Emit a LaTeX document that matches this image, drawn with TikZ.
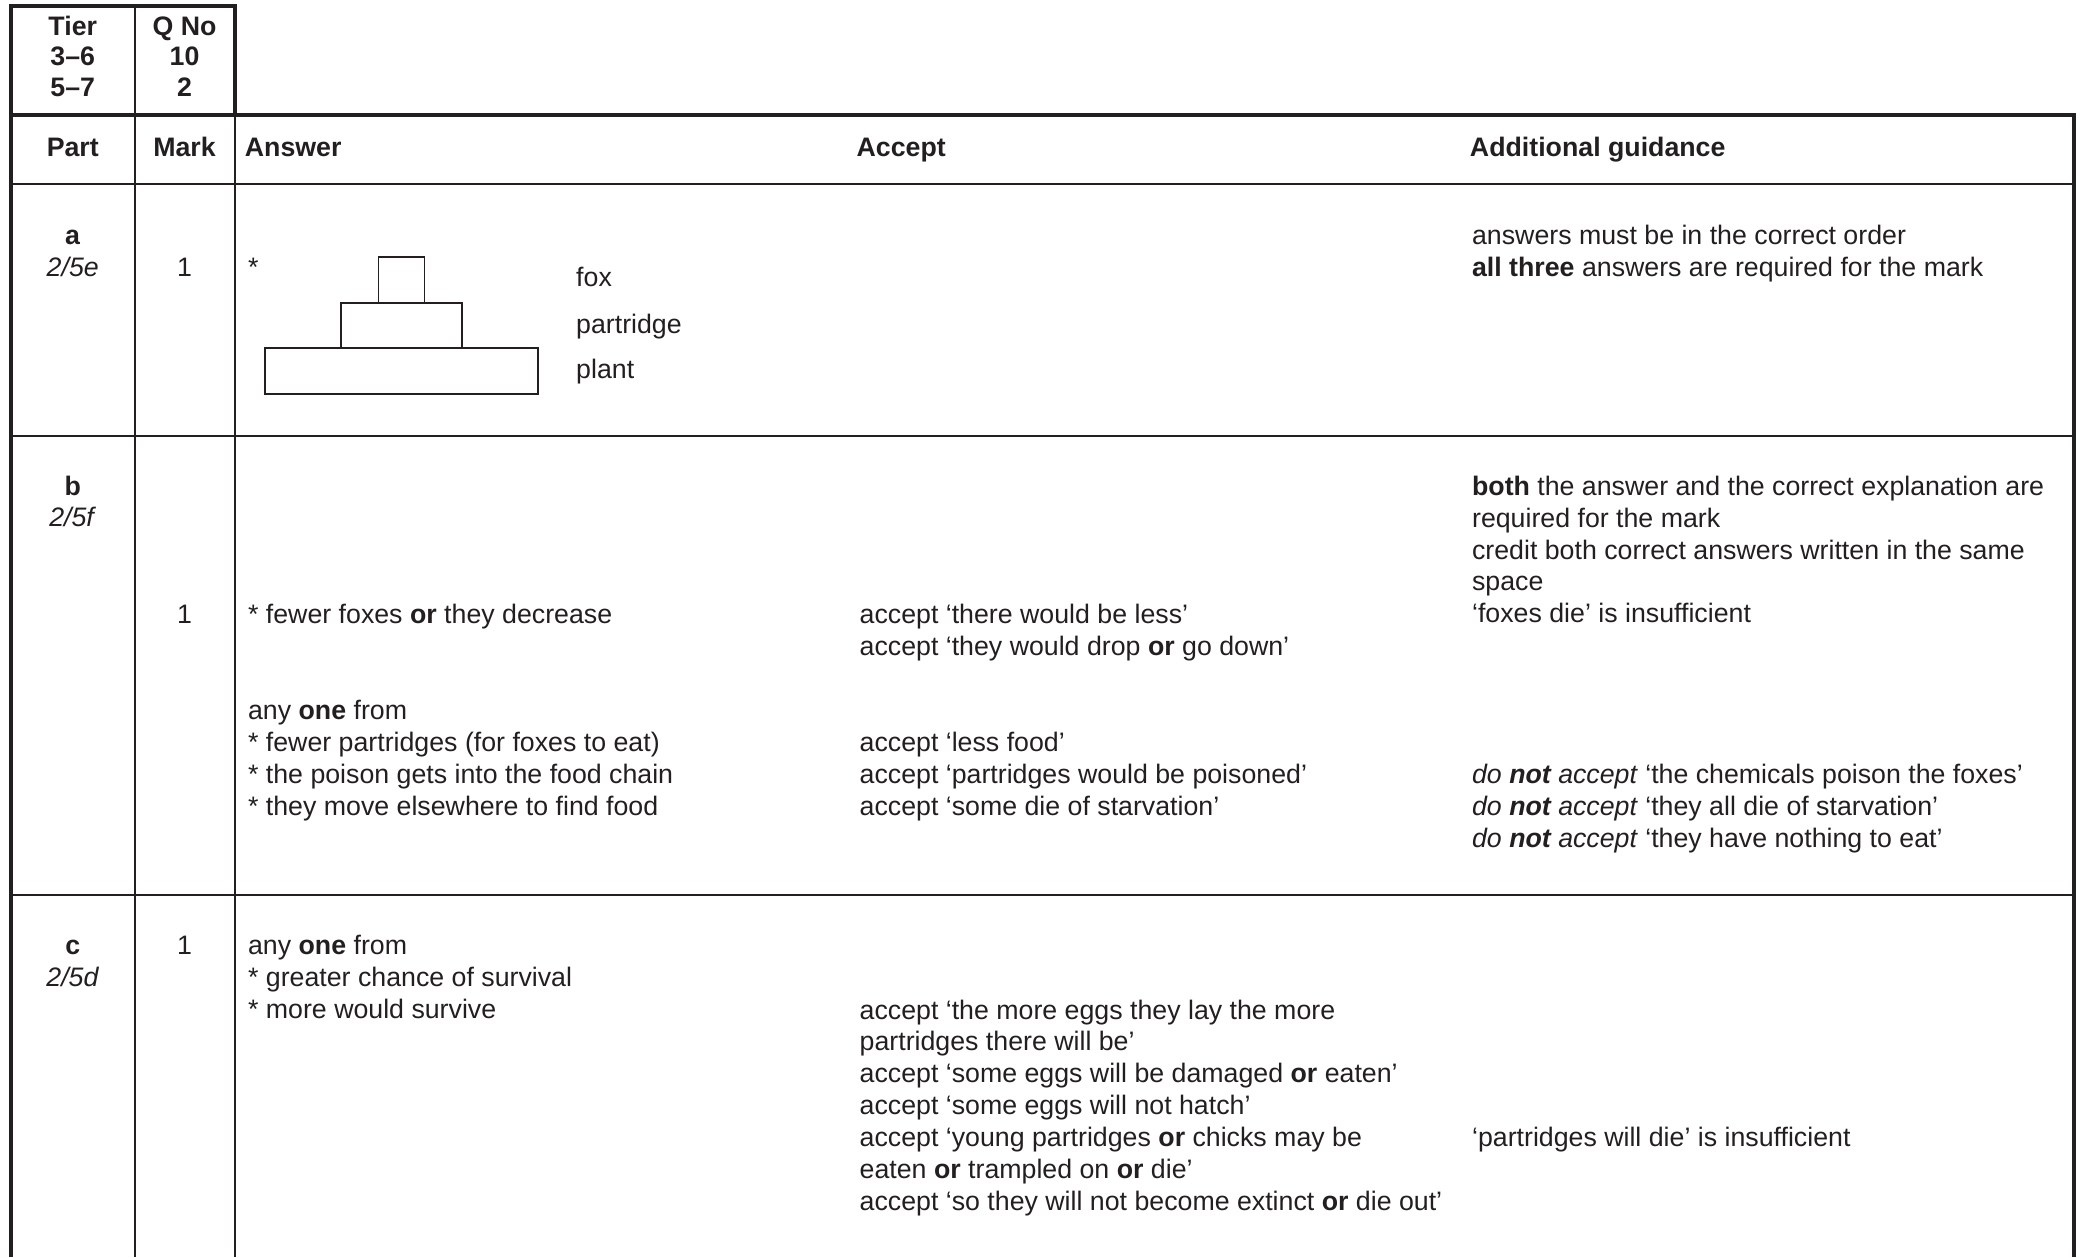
\documentclass[tikz,border=0pt]{standalone}
\usepackage{fontspec}
\setmainfont{Liberation Sans}
\definecolor{ink}{RGB}{35,31,32}

\begin{document}
\begin{tikzpicture}[x=0.75pt,y=0.75pt,yscale=-1,xscale=1,
  every node/.style={inner sep=0pt, text=ink, font=\fontsize{15.1}{18}\selectfont},
  thickrule/.style={line width=2.2pt, draw=ink},
  thinrule/.style={line width=1.1pt, draw=ink},
  layer/.style={line width=0.9pt, draw=ink},
  txt/.style={anchor=base west, align=left},
  mid/.style={anchor=base, align=center},
  head/.style={anchor=base west, font=\fontsize{15.1}{18}\selectfont\bfseries}]
\useasboundingbox (0,0) rectangle (1568,947);
%multi-line nodes sit on the baseline of their last line

%Straight Lines
\draw[thickrule] (8,947) -- (8,4.5) -- (177,4.5) -- (177,86.6);
\draw[thickrule] (8,86.6) -- (1562,86.6) -- (1562,947);
%Straight Lines
\draw[thinrule] (101.5,4.5) -- (101.5,947);
\draw[thinrule] (177,86.6) -- (177,947);
\draw[thinrule] (8,138.6) -- (1562,138.6);
\draw[thinrule] (8,328) -- (1562,328);
\draw[thinrule] (8,674) -- (1562,674);

%Shape: Rectangle
\draw[layer] (285,193.6) rectangle (319.8,228);
\draw[layer] (256.9,228) rectangle (348,262.3);
\draw[layer] (199.6,262.3) rectangle (405.1,296.7);

% Text Node
\node[mid, font=\fontsize{15.1}{17.4}\selectfont\bfseries] (tier) at (54.8,72.8) {Tier\\3–6\\5–7};
\node[mid, font=\fontsize{15.1}{17.4}\selectfont\bfseries] (qno) at (139,72.8) {Q No\\10\\2};

% Text Node
\node[mid, font=\fontsize{15.1}{18}\selectfont\bfseries] (hpart) at (54.8,118) {Part};
\node[mid, font=\fontsize{15.1}{18}\selectfont\bfseries] (hmark) at (139,118) {Mark};
\node[head] (hanswer) at (184.2,118) {Answer};
\node[head] (haccept) at (644.9,118) {Accept};
\node[head] (hguide) at (1106.8,118) {Additional guidance};

% Text Node
\node[mid] (parta) at (54.8,208.5) {\textbf{a}\\\textit{2/5e}};
\node[mid] (marka) at (139,208.4) {1};
\node[txt] (star) at (186.6,208.4) {*};
\node[txt] (fox) at (433.7,216) {fox};
\node[txt] (partridge) at (433.7,251) {partridge};
\node[txt] (plant) at (433.7,285.4) {plant};
\node[txt] (guidea) at (1108.4,208.5) {answers must be in the correct order\\\textbf{all three} answers are required for the mark};

% Text Node
\node[mid] (partb) at (54.8,396.8) {\textbf{b}\\\textit{2/5f}};
\node[mid] (markb) at (139,469.4) {1};
\node[txt] (guideb) at (1108.4,469) {\textbf{both} the answer and the correct explanation are\\required for the mark\\credit both correct answers written in the same\\space\\‘foxes die’ is insufficient};
\node[txt] (ansb) at (186.6,469.4) {* fewer foxes \textbf{or} they decrease};
\node[txt] (accb) at (647.2,493.4) {accept ‘there would be less’\\accept ‘they would drop \textbf{or} go down’};
\node[txt] (ansbb) at (186.6,614) {any \textbf{one} from\\* fewer partridges (for foxes to eat)\\* the poison gets into the food chain\\* they move elsewhere to find food};
\node[txt] (accbb) at (647.2,614) {accept ‘less food’\\accept ‘partridges would be poisoned’\\accept ‘some die of starvation’};
\node[txt] (guidebb) at (1108.4,638) {\textit{do \textbf{not} accept} ‘the chemicals poison the foxes’\\\textit{do \textbf{not} accept} ‘they all die of starvation’\\\textit{do \textbf{not} accept} ‘they have nothing to eat’};

% Text Node
\node[mid] (partc) at (54.8,743.2) {\textbf{c}\\\textit{2/5d}};
\node[mid] (markc) at (139,719.2) {1};
\node[txt] (ansc) at (186.6,767.2) {any \textbf{one} from\\* greater chance of survival\\* more would survive};
\node[txt] (accc) at (647.2,911.5) {accept ‘the more eggs they lay the more\\partridges there will be’\\accept ‘some eggs will be damaged \textbf{or} eaten’\\accept ‘some eggs will not hatch’\\accept ‘young partridges \textbf{or} chicks may be\\eaten \textbf{or} trampled on \textbf{or} die’\\accept ‘so they will not become extinct \textbf{or} die out’};
\node[txt] (guidec) at (1108.4,863.6) {‘partridges will die’ is insufficient};

\end{tikzpicture}
\end{document}
